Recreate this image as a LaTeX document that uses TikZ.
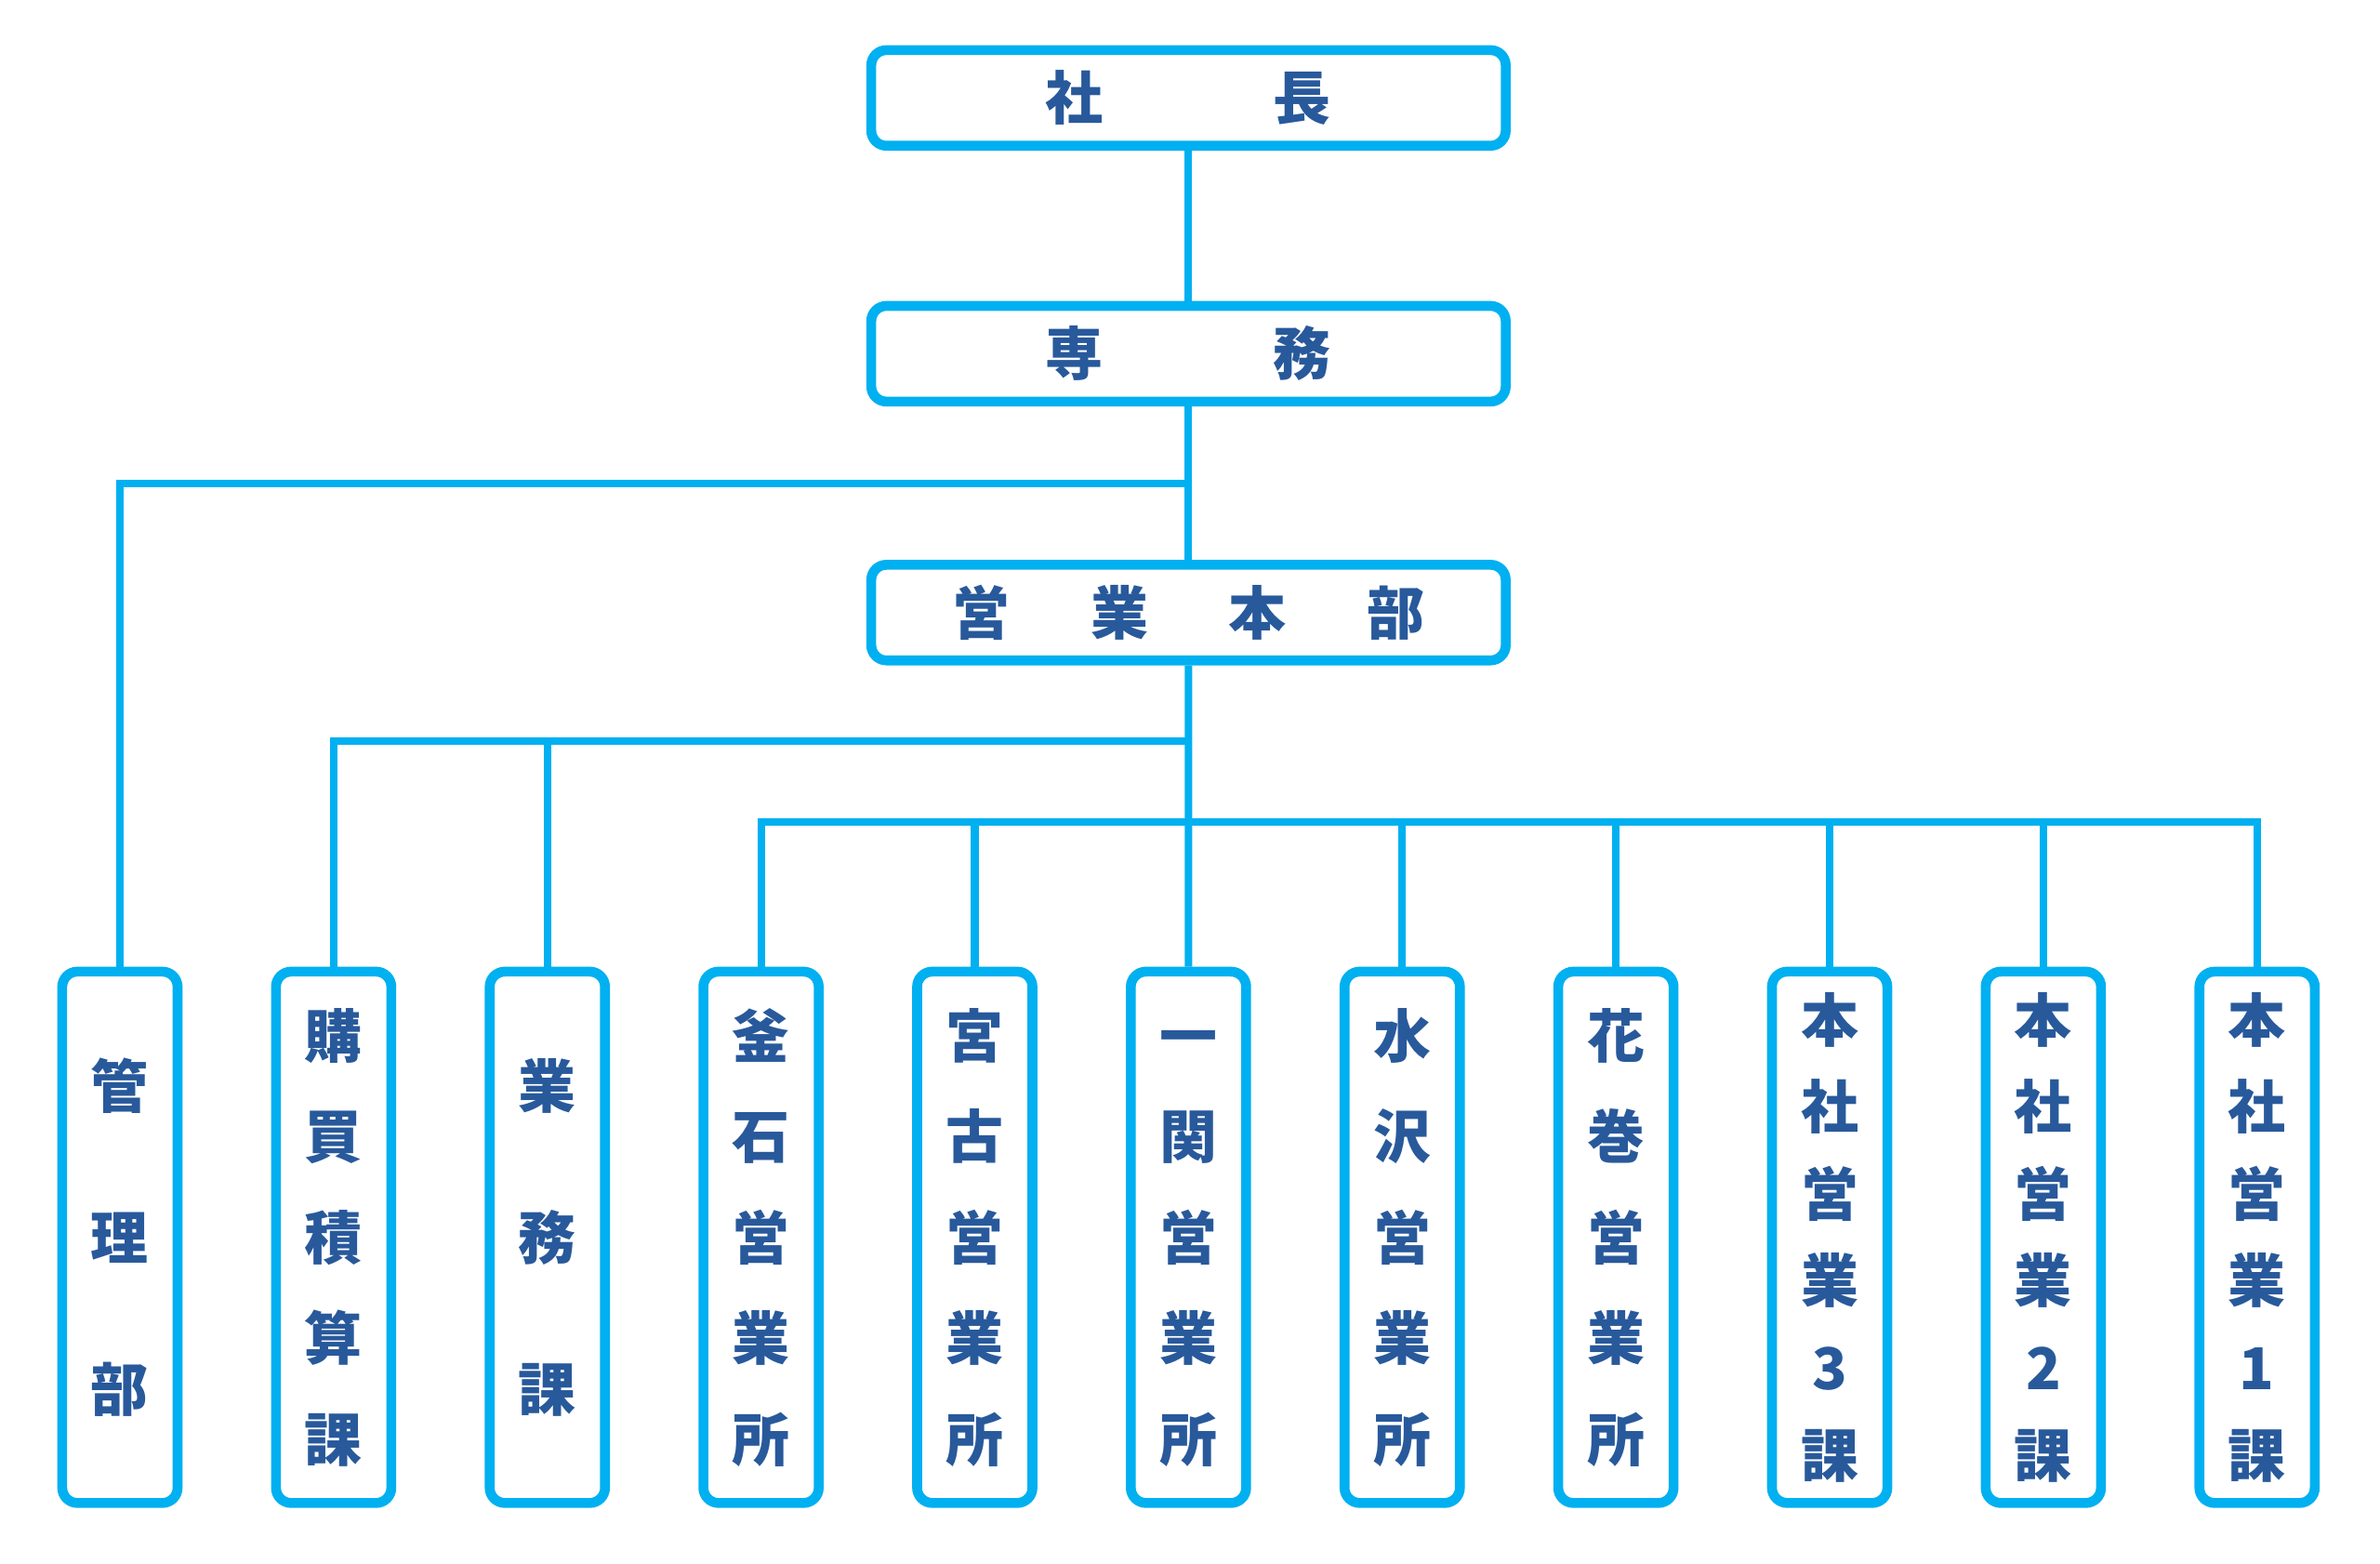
\documentclass[tikz,border=0pt]{standalone}
\usepackage{fontspec}
\usepackage{tikz}
\usepackage{xcolor}
\usetikzlibrary{positioning, calc}

\newfontfamily\jpfont{Noto Sans CJK JP}
\definecolor{lineblue}{RGB}{0,176,240}
\definecolor{textblue}{RGB}{40,89,155}

\begin{document}
\begin{tikzpicture}[
    node distance=1cm,
    topbox/.style={rectangle, rounded corners=0.1cm, draw=lineblue, line width=0.065cm, fill=white, minimum width=4.18cm, minimum height=0.63cm, inner sep=0pt, text=textblue, font=\jpfont\bfseries\fontsize{10.8}{12}\selectfont},
    unitbox/.style={rectangle, rounded corners=0.1cm, draw=lineblue, line width=0.065cm, fill=white, minimum width=0.76cm, minimum height=3.5cm, inner sep=0pt, align=center, text=textblue},
    rows3/.style={font=\jpfont\bfseries\fontsize{10.8}{28.4}\selectfont},
    rows5/.style={font=\jpfont\bfseries\fontsize{10.8}{18.9}\selectfont},
    rows6/.style={font=\jpfont\bfseries\fontsize{10.8}{16.3}\selectfont},
    link/.style={draw=lineblue, line width=0.05cm}
]
\useasboundingbox (0,0) rectangle (15.68,-10.30);

% Top of the chart
\node[topbox] (pres) at (7.83,-0.645) {社\hspace{1.12cm}長};
\node[topbox, below=0.99cm of pres] (exec) {専\hspace{1.12cm}務};
\node[topbox, below=1.01cm of exec] (hq) {営\hspace{0.53cm}業\hspace{0.53cm}本\hspace{0.53cm}部};

% Sections
\node[unitbox, rows3] (kanri) at (0.79,-8.15) {管\\理\\部};
\node[unitbox, rows5, right=0.583cm of kanri] (koubai) {購\\買\\積\\算\\課};
\node[unitbox, rows3, right=0.583cm of koubai] (gyomu) {業\\務\\課};
\node[unitbox, rows5, right=0.583cm of gyomu] (kamaishi) {釜\\石\\営\\業\\所};
\node[unitbox, rows5, right=0.583cm of kamaishi] (miyako) {宮\\古\\営\\業\\所};
\node[unitbox, rows5, right=0.583cm of miyako] (ichinoseki) {\vphantom{営}一\\関\\営\\業\\所};
\node[unitbox, rows5, right=0.583cm of ichinoseki] (mizusawa) {水\\沢\\営\\業\\所};
\node[unitbox, rows5, right=0.583cm of mizusawa] (hanamaki) {花\\巻\\営\\業\\所};
\node[unitbox, rows6, right=0.583cm of hanamaki] (honsha3) {本\\社\\営\\業\\3\\課};
\node[unitbox, rows6, right=0.583cm of honsha3] (honsha2) {本\\社\\営\\業\\2\\課};
\node[unitbox, rows6, right=0.583cm of honsha2] (honsha1) {本\\社\\営\\業\\1\\課};

% Junctions
\coordinate (j1) at ($(exec.south)!0.5!(hq.north)$);
\coordinate (j2) at ([yshift=-0.5cm]hq.south);
\coordinate (j3) at ([yshift=-1.03cm]hq.south);

% Lines
\draw[link] (pres) -- (exec);
\draw[link] (exec) -- (hq);
\draw[link] (j1) -| (kanri.north);
\draw[link] (hq) -- (ichinoseki);
\draw[link] (j2) -| (koubai.north);
\draw[link] (gyomu.north) -- (gyomu.north |- j2);
\draw[link] (kamaishi.north) |- (honsha1.north |- j3) -- (honsha1.north);
\draw[link] (miyako.north) -- (miyako.north |- j3);
\draw[link] (mizusawa.north) -- (mizusawa.north |- j3);
\draw[link] (hanamaki.north) -- (hanamaki.north |- j3);
\draw[link] (honsha3.north) -- (honsha3.north |- j3);
\draw[link] (honsha2.north) -- (honsha2.north |- j3);

\end{tikzpicture}
\end{document}
